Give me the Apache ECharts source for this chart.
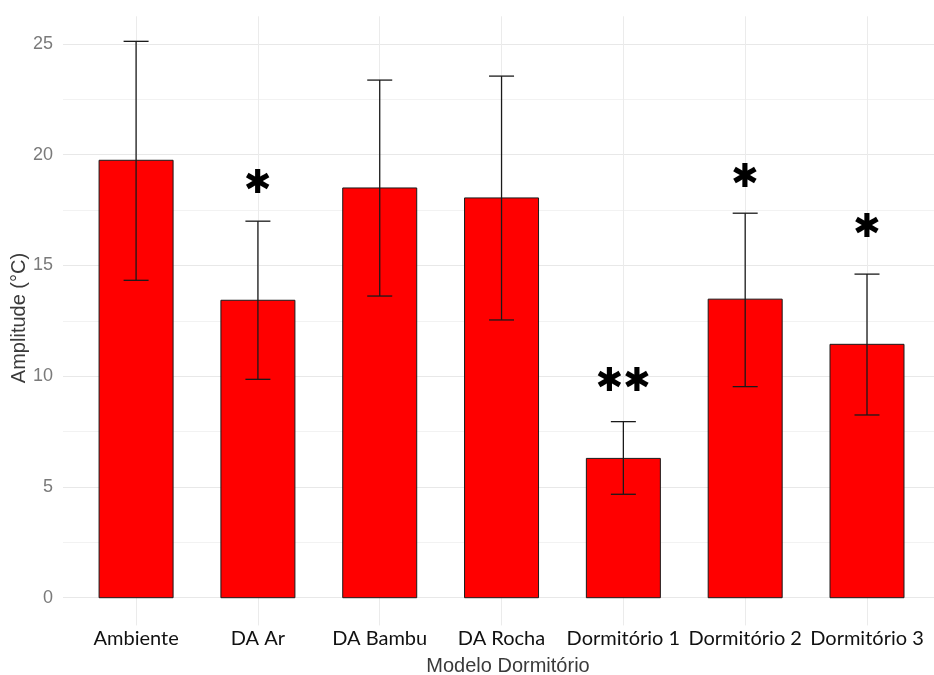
<!DOCTYPE html>
<html><head><meta charset="utf-8">
<script src="https://cdn.jsdelivr.net/npm/echarts@6/dist/echarts.min.js"></script>
<style>html,body{margin:0;padding:0;background:#fff}#c{width:934px;height:675px}</style>
</head><body><div id="c"></div>
<script>
const categories = ['Ambiente', 'DA Ar', 'DA Bambu', 'DA Rocha', 'Dormitório 1', 'Dormitório 2', 'Dormitório 3'];
const means = [19.75, 13.43, 18.5, 18.05, 6.29, 13.48, 11.44];
const lower = [14.33, 9.86, 13.62, 12.54, 4.67, 9.53, 8.25];
const upper = [25.12, 17.0, 23.37, 23.55, 7.95, 17.36, 14.61];
const signif = ['', '*', '', '', '**', '*', '*'];
const signifY = [null, 18.65, null, null, 9.74, 18.95, 16.69];
const yTicks = [0, 5, 10, 15, 20, 25];

const chart = echarts.init(document.getElementById('c'), null, {renderer: 'canvas'});
const T = 'rgba(0,0,0,0)';
const barData = means.map((v, i) => [i, v]);
const errData = means.map((v, i) => [i, lower[i], upper[i]]);
const starData = [];
signif.forEach((s, i) => { if (s) starData.push([i, signifY[i], s.length]); });

chart.setOption({
  animation: false,
  backgroundColor: '#ffffff',
  grid: {left: 63, top: 16.3, width: 871, bottom: 49.6, containLabel: false},
  xAxis: {
    type: 'value', min: -0.6, max: 6.55, interval: 0.2,
    axisLine: {show: false}, axisTick: {show: false},
    axisLabel: {
      margin: 3, fontFamily: 'Lato', fontSize: 20, color: '#111',
      showMinLabel: false, showMaxLabel: false,
      formatter: v => { const k = Math.round(v); return (Math.abs(v - k) < 1e-6 && k >= 0 && k < categories.length) ? categories[k] : ''; }
    },
    splitLine: {show: true, lineStyle: {width: 1, color: [T, T, T, '#ebebeb', T]}}
  },
  yAxis: {
    type: 'value', min: -1.25, max: 26.25, interval: 1.25,
    axisLine: {show: false}, axisTick: {show: false},
    axisLabel: {
      margin: 10, fontFamily: 'Liberation Sans', fontSize: 18, color: '#7a7a7a',
      formatter: v => yTicks.some(t => Math.abs(t - v) < 1e-6) ? String(Math.round(v)) : ''
    },
    splitLine: {show: true, lineStyle: {width: 1.2, color: [T, '#e8e8e8', T, '#f2f2f2']}}
  },
  graphic: [
    {type: 'text', x: 508, y: 666, style: {text: 'Modelo Dormitório', fontFamily: 'Liberation Sans', fontSize: 20,
      fill: '#3a3a3a', align: 'center', verticalAlign: 'middle'}},
    {type: 'text', x: 19, y: 318, rotation: Math.PI / 2, style: {text: 'Amplitude (°C)', fontFamily: 'Liberation Sans', fontSize: 20,
      fill: '#3a3a3a', align: 'center', verticalAlign: 'middle'}}
  ],
  series: [
    {
      type: 'custom', data: barData,
      renderItem: (params, api) => {
        const x = api.value(0);
        const p0 = api.coord([x, 0]);
        const p1 = api.coord([x, api.value(1)]);
        const w = 74;
        return {type: 'rect', shape: {x: p0[0] - w / 2, y: p1[1], width: w, height: p0[1] - p1[1]},
          style: {fill: '#ff0000', stroke: '#1a1a1a', lineWidth: 1}};
      },
      z: 4
    },
    {
      type: 'custom', data: errData,
      renderItem: (params, api) => {
        const x = api.value(0);
        const lo = api.coord([x, api.value(1)]);
        const hi = api.coord([x, api.value(2)]);
        const hw = 12.5;
        const st = {stroke: '#1a1a1a', lineWidth: 1.3};
        return {type: 'group', children: [
          {type: 'line', shape: {x1: lo[0], y1: lo[1], x2: hi[0], y2: hi[1]}, style: st},
          {type: 'line', shape: {x1: lo[0] - hw, y1: lo[1], x2: lo[0] + hw, y2: lo[1]}, style: st},
          {type: 'line', shape: {x1: hi[0] - hw, y1: hi[1], x2: hi[0] + hw, y2: hi[1]}, style: st}
        ]};
      },
      z: 5
    },
    {
      type: 'custom', data: starData,
      renderItem: (params, api) => {
        const p = api.coord([api.value(0), api.value(1)]);
        const n = api.value(2);
        return {type: 'text', x: p[0], y: p[1], style: {
          text: '✱'.repeat(n), fontFamily: 'DejaVu Sans', fontSize: 33, fontWeight: 'bold',
          fill: '#000', align: 'center', verticalAlign: 'middle'
        }};
      },
      z: 6
    }
  ]
});
</script></body></html>
